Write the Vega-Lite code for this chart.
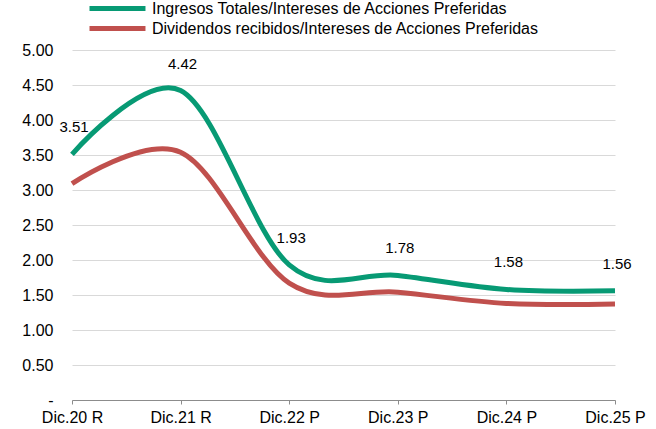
{
  "$schema": "https://vega.github.io/schema/vega-lite/v6.json",
  "autosize": {"type": "none"},
  "width": 543,
  "height": 350,
  "padding": {"left": 72, "top": 50, "right": 41, "bottom": 29},
  "background": "white",
  "config": {"view": {"stroke": null}, "font": "Liberation Sans"},
  "data": {
    "values": [
      {"periodo": "Dic.20 R", "serie": "Ingresos Totales/Intereses de Acciones Preferidas", "valor": 3.51},
      {"periodo": "Dic.21 R", "serie": "Ingresos Totales/Intereses de Acciones Preferidas", "valor": 4.42},
      {"periodo": "Dic.22 P", "serie": "Ingresos Totales/Intereses de Acciones Preferidas", "valor": 1.93},
      {"periodo": "Dic.23 P", "serie": "Ingresos Totales/Intereses de Acciones Preferidas", "valor": 1.78},
      {"periodo": "Dic.24 P", "serie": "Ingresos Totales/Intereses de Acciones Preferidas", "valor": 1.58},
      {"periodo": "Dic.25 P", "serie": "Ingresos Totales/Intereses de Acciones Preferidas", "valor": 1.56},
      {"periodo": "Dic.20 R", "serie": "Dividendos recibidos/Intereses de Acciones Preferidas", "valor": 3.09},
      {"periodo": "Dic.21 R", "serie": "Dividendos recibidos/Intereses de Acciones Preferidas", "valor": 3.54},
      {"periodo": "Dic.22 P", "serie": "Dividendos recibidos/Intereses de Acciones Preferidas", "valor": 1.67},
      {"periodo": "Dic.23 P", "serie": "Dividendos recibidos/Intereses de Acciones Preferidas", "valor": 1.54},
      {"periodo": "Dic.24 P", "serie": "Dividendos recibidos/Intereses de Acciones Preferidas", "valor": 1.38},
      {"periodo": "Dic.25 P", "serie": "Dividendos recibidos/Intereses de Acciones Preferidas", "valor": 1.37}
    ]
  },
  "encoding": {
    "x": {
      "field": "periodo", "type": "ordinal", "sort": null,
      "scale": {"type": "point", "padding": 0},
      "axis": {
        "title": null, "labelAngle": 0, "labelFontSize": 16, "labelColor": "#000000",
        "domainColor": "#8c8c8c", "tickColor": "#8c8c8c", "tickSize": 4, "labelPadding": 5,
        "grid": false
      }
    },
    "y": {
      "field": "valor", "type": "quantitative",
      "scale": {"domain": [0, 5], "nice": false},
      "axis": {
        "title": null, "values": [0, 0.5, 1, 1.5, 2, 2.5, 3, 3.5, 4, 4.5, 5],
        "labelExpr": "datum.value == 0 ? '-\u00a0\u00a0' : format(datum.value, '.2f')",
        "labelFontSize": 16, "labelColor": "#000000", "labelPadding": 19,
        "domain": false, "ticks": false,
        "grid": true, "gridColor": "#d9d9d9", "gridWidth": 1
      }
    }
  },
  "layer": [
    {
      "mark": {"type": "line", "interpolate": "cardinal", "strokeWidth": 5},
      "encoding": {
        "color": {
          "field": "serie", "type": "nominal",
          "scale": {
            "domain": ["Ingresos Totales/Intereses de Acciones Preferidas", "Dividendos recibidos/Intereses de Acciones Preferidas"],
            "range": ["#079a74", "#c0504d"]
          },
          "legend": {
            "title": null, "orient": "none", "legendX": 15, "legendY": -50,
            "padding": 0, "offset": 0,
            "direction": "vertical", "symbolType": "M-1,0H8.33", "symbolSize": 144,
            "symbolStrokeWidth": 5, "labelFontSize": 16, "labelColor": "#000000",
            "labelOffset": 48, "rowPadding": -1, "labelLimit": 600
          }
        }
      }
    },
    {
      "transform": [{"filter": "datum.serie == 'Ingresos Totales/Intereses de Acciones Preferidas'"}],
      "mark": {"type": "text", "dx": 2, "dy": -27, "fontSize": 15, "color": "#000000"},
      "encoding": {
        "text": {"field": "valor", "type": "quantitative", "format": ".2f"}
      }
    }
  ]
}
